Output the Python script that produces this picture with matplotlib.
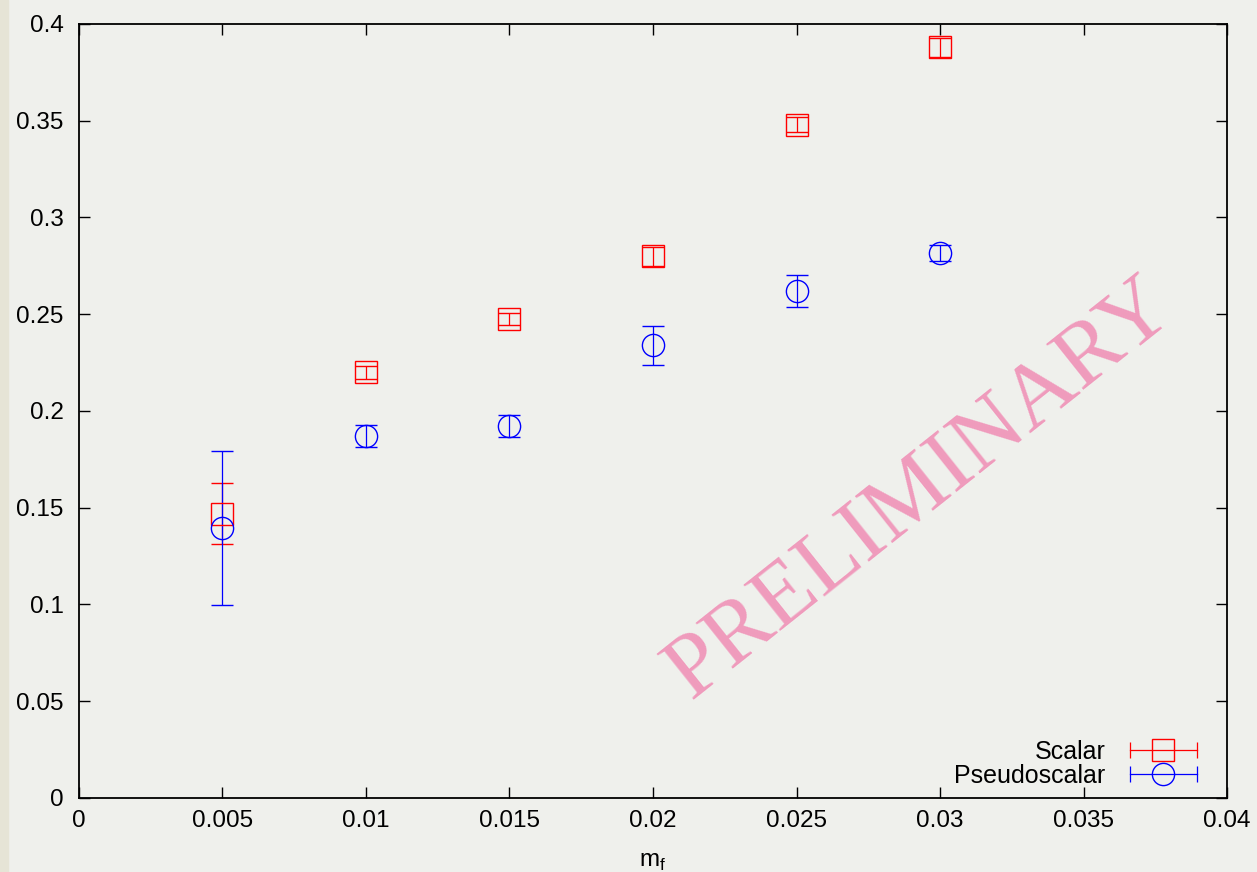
import matplotlib.pyplot as plt
from matplotlib.lines import Line2D
from matplotlib.legend_handler import HandlerLine2D

plt.rcParams['font.family'] = ['Liberation Sans', 'DejaVu Sans']

m_f = [0.005, 0.01, 0.015, 0.02, 0.025, 0.03]
scalar = [0.147, 0.220, 0.2475, 0.280, 0.348, 0.388]
scalar_err = [0.016, 0.0035, 0.003, 0.005, 0.004, 0.005]
pseudo = [0.1395, 0.187, 0.192, 0.234, 0.262, 0.2817]
pseudo_err = [0.040, 0.0057, 0.0057, 0.010, 0.0085, 0.004]

x_ticks = [0, 0.005, 0.01, 0.015, 0.02, 0.025, 0.03, 0.035, 0.04]
x_labels = ['0', '0.005', '0.01', '0.015', '0.02', '0.025', '0.03', '0.035', '0.04']
y_ticks = [0, 0.05, 0.1, 0.15, 0.2, 0.25, 0.3, 0.35, 0.4]
y_labels = ['0', '0.05', '0.1', '0.15', '0.2', '0.25', '0.3', '0.35', '0.4']

bg = '#eff0ec'
fig = plt.figure(figsize=(12.57, 8.72), dpi=100, facecolor=bg)
ax = fig.add_axes([0.0628, 0.0849, 0.9134, 0.8876], facecolor=bg)
fig.patches.append(plt.Rectangle((0, 0), 0.0065, 1, transform=fig.transFigure,
                                 color='#e6e4d6', zorder=0))

ax.errorbar(m_f, scalar, yerr=scalar_err, fmt='s', color='red', mfc='none',
            ms=16.5, mew=1.0, elinewidth=0.9, capsize=8, capthick=0.9)
ax.errorbar(m_f, pseudo, yerr=pseudo_err, fmt='o', color='blue', mfc='none',
            ms=16, mew=1.0, elinewidth=0.9, capsize=8, capthick=0.9)

ax.set_xlim(0, 0.04)
ax.set_ylim(0, 0.4)
ax.set_xticks(x_ticks)
ax.set_xticklabels(x_labels)
ax.set_yticks(y_ticks)
ax.set_yticklabels(y_labels)
ax.tick_params(direction='in', top=True, right=True, length=8, width=1,
               labelsize=17.5)
ax.tick_params(axis='x', pad=9)
ax.tick_params(axis='y', pad=11)
for s in ax.spines.values():
    s.set_linewidth(1.3)
ax.set_xlabel('m$_\\mathregular{f}$', fontsize=17.5, labelpad=13)

# gnuplot-style legend entries: horizontal bar with caps plus marker
s_bar = Line2D([], [], color='red', lw=0.9, marker='|', ms=12, mew=0.9)
s_mk = Line2D([], [], color='red', ls='none', marker='s', mfc='none', ms=16.5, mew=1.0)
p_bar = Line2D([], [], color='blue', lw=0.9, marker='|', ms=12, mew=0.9)
p_mk = Line2D([], [], color='blue', ls='none', marker='o', mfc='none', ms=16, mew=1.0)
hm = {s_bar: HandlerLine2D(numpoints=2), p_bar: HandlerLine2D(numpoints=2),
      s_mk: HandlerLine2D(numpoints=1), p_mk: HandlerLine2D(numpoints=1)}
ax.legend([(s_bar, s_mk), (p_bar, p_mk)], ['Scalar', 'Pseudoscalar'],
          handler_map=hm, loc='lower right', bbox_to_anchor=(0.98, 0.013),
          frameon=False, markerfirst=False, fontsize=18, handlelength=3.25,
          handletextpad=0.7, labelspacing=0.0, borderpad=0, borderaxespad=0)

ax.text(0.733, 0.398, 'PRELIMINARY', transform=ax.transAxes, rotation=38.5,
        ha='center', va='center', fontsize=66, color='#f08cb4', alpha=0.85,
        family='Liberation Serif')

plt.savefig('out.png', dpi=100, facecolor=bg)
